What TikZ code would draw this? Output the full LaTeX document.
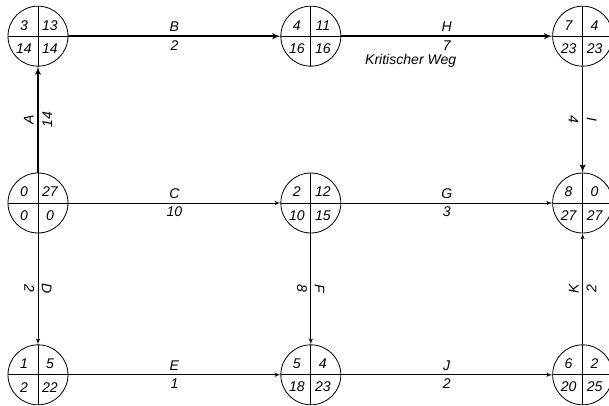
\documentclass[tikz,border=0pt]{standalone}
\usepackage{fontspec}
\setmainfont{Liberation Sans}
\usetikzlibrary{arrows,positioning}

\tikzset{
  zahl/.style={font=\fontsize{12}{14}\selectfont\itshape,inner sep=0pt},
  ereignis/.style n args={4}{draw,circle,line width=0.7pt,minimum size=1.8cm,inner sep=0pt,
    path picture={\draw[line width=0.7pt] (path picture bounding box.north)--(path picture bounding box.south)
      (path picture bounding box.west)--(path picture bounding box.east);},
    label={[zahl,xshift=-0.42cm,yshift=0.33cm]center:#1},
    label={[zahl,xshift=0.36cm,yshift=0.33cm]center:#2},
    label={[zahl,xshift=-0.42cm,yshift=-0.37cm]center:#3},
    label={[zahl,xshift=0.36cm,yshift=-0.37cm]center:#4}},
  kante/.style={font=\fontsize{12}{14}\selectfont\itshape,inner sep=3pt},
  vorgang/.style={->,line width=0.7pt},
  krit/.style={->,line width=1.4pt}
}

\begin{document}
\begin{tikzpicture}[>=latex']
\useasboundingbox (0,0) rectangle (18.27,12.15);
% Ereignisse
\node[ereignis={0}{27}{0}{0}] (n0) at (1.14,6.06) {};
\node[ereignis={3}{13}{14}{14},above=3.18cm of n0] (n3) {};
\node[ereignis={1}{5}{2}{22},below=3.33cm of n0] (n1) {};
\node[ereignis={2}{12}{10}{15},right=6.36cm of n0] (n2) {};
\node[ereignis={8}{0}{27}{27},right=6.33cm of n2] (n8) {};
\node[ereignis={4}{11}{16}{16},right=6.36cm of n3] (n4) {};
\node[ereignis={7}{4}{23}{23},right=6.33cm of n4] (n7) {};
\node[ereignis={5}{4}{18}{23},right=6.36cm of n1] (n5) {};
\node[ereignis={6}{2}{20}{25},right=6.33cm of n5] (n6) {};
% Vorgaenge
\draw[krit](n0)--node[kante,above,sloped]{A}node[kante,below,sloped]{14}(n3);
\draw[krit](n3)--node[kante,above]{B}node[kante,below]{2}(n4);
\draw[krit](n4)--node[kante,above]{H}node[kante,below](hdauer){7}(n7);
\draw[krit](n7)--node[kante,above,sloped]{I}node[kante,below,sloped]{4}(n8);
\draw[vorgang](n0)--node[kante,above]{C}node[kante,below]{10}(n2);
\draw[vorgang](n2)--node[kante,above]{G}node[kante,below]{3}(n8);
\draw[vorgang](n0)--node[kante,above,sloped]{D}node[kante,below,sloped]{2}(n1);
\draw[vorgang](n2)--node[kante,above,sloped]{F}node[kante,below,sloped]{8}(n5);
\draw[vorgang](n1)--node[kante,above]{E}node[kante,below]{1}(n5);
\draw[vorgang](n5)--node[kante,above]{J}node[kante,below]{2}(n6);
\draw[vorgang](n6)--node[kante,above,sloped]{K}node[kante,below,sloped]{2}(n8);
\node[kante,below=-0.12cm of hdauer,xshift=-1.08cm](kw){Kritischer Weg};
\end{tikzpicture}
\end{document}
